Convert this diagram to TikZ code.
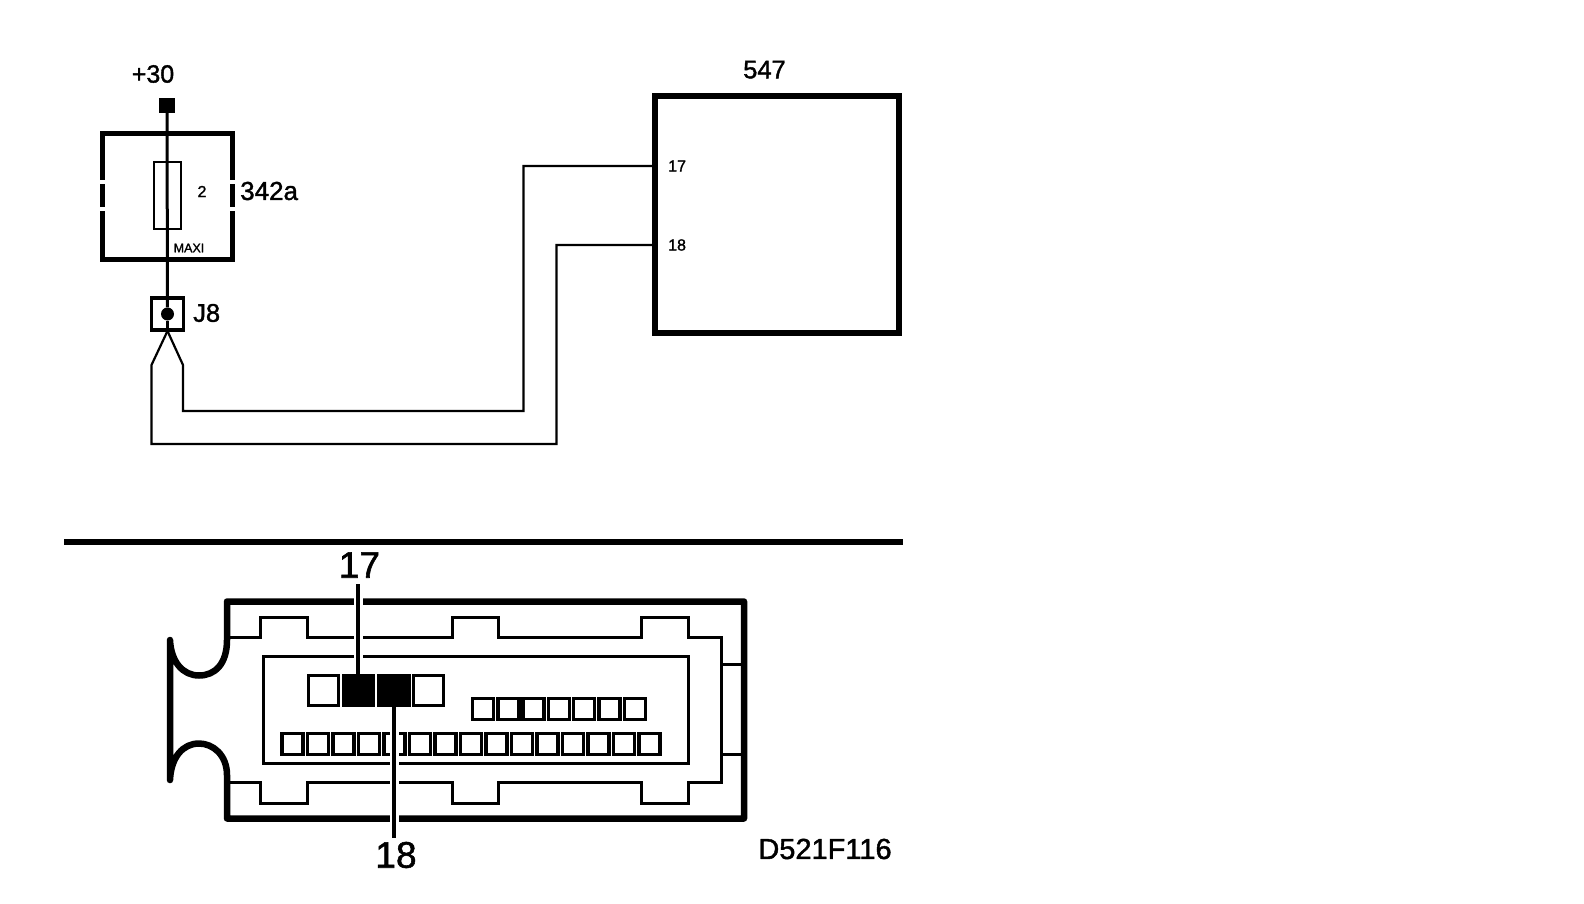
\documentclass[tikz,border=0pt]{standalone}
\usepackage{fontspec}
\setmainfont{Liberation Sans}[FakeBold=1.5]
\usetikzlibrary{arrows.meta}
\tikzset{
  heavybox/.style={draw,line width=6pt,inner sep=0pt,outer sep=0pt},
  lightbox/.style={draw,line width=2pt,inner sep=0pt,outer sep=0pt},
  pinbox/.style={draw,line width=3.5pt,inner sep=0pt,outer sep=0pt,minimum width=#1,minimum height=#1},
  pinfull/.style={pinbox=#1,fill=black},
  wire/.style={line width=2.2pt},
  feed/.style={line width=3pt},
  shell/.style={line width=6.5pt,line join=round,line cap=round},
  inner/.style={line width=3pt,line join=miter},
  leader/.style={line width=4pt},
  halo/.style={white,line width=9pt}
}
\begin{document}
\begin{tikzpicture}[x=1pt,y=-1pt]
  \useasboundingbox (0,0) rectangle (1584,904);
  % upper part
  \node[fill,inner sep=0pt,minimum width=16pt,minimum height=15pt] (term) at (167,105.5) {};
  \node[font=\fontsize{25}{25}\selectfont] (lbl30) at (153,74) {+30};
  \node[heavybox,line width=5pt,minimum width=129.5pt,minimum height=126.5pt] (box342) at (167.5,196.5) {};
  \node[lightbox,minimum width=27pt,minimum height=66pt] (fuse) at (167,195.5) {};
  \node[font=\fontsize{16}{16}\selectfont] (lbl2) at (202,191.5) {2};
  \node[font=\fontsize{12.5}{13}\selectfont] (lblmaxi) at (189,248) {MAXI};
  \node[font=\fontsize{26}{26}\selectfont,anchor=west,inner sep=0pt] (lbl342) at (240,191) {342a};
  % breaks in the sides of 342a
  \foreach \x in {102.75,232.25}
    \foreach \y in {182.5,209}
      \fill[white] (\x-4,\y-2) rectangle (\x+4,\y+2);
  \node[lightbox,line width=3.5pt,minimum width=32pt,minimum height=32pt] (j8) at (167.5,314) {};
  \node[circle,fill,inner sep=0pt,minimum size=13pt] (jdot) at (167.5,314) {};
  \node[font=\fontsize{25.5}{26}\selectfont,anchor=west,inner sep=0pt] (lblj8) at (193,313) {J8};
  \node[heavybox,minimum width=243.5pt,minimum height=236.5pt] (box547) at (776.75,214.75) {};
  \node[font=\fontsize{25.5}{25}\selectfont] (lbl547) at (764.5,69.7) {547};
  \node[font=\fontsize{16}{16}\selectfont,anchor=west,inner sep=0pt] (p17) at (668,166) {17};
  \node[font=\fontsize{16}{16}\selectfont,anchor=west,inner sep=0pt] (p18) at (668,245) {18};
  \draw[feed] (term) -- (jdot);
  \coordinate (fork) at (167.5,331);
  \draw[feed] (jdot) -- (fork);
  \draw[wire] (fork) -- (183,365) -- (183,411) -- (523.5,411) -- (523.5,166) -- (box547.west |- p17);
  \draw[wire] (fork) -- (151.5,365) -- (151.5,444) -- (556.5,444) -- (556.5,245) -- (box547.west |- p18);
  % divider
  \coordinate (divl) at (64,542);
  \coordinate (divr) at (903,542);
  \draw[line width=5.5pt] (divl) -- (divr);
  % connector shell
  \draw[shell] (170,780) -- (170,640)
    .. controls (171,662) and (183,675.5) .. (199,675.5)
    .. controls (215,675.5) and (227,664) .. (227,640)
    -- (227,601.5) -- (744,601.5) -- (744,818.5) -- (227,818.5) -- (227,775)
    .. controls (227,755) and (213,743.5) .. (199,743.5)
    .. controls (183,743.5) and (171,757) .. (170,780);
  \draw[inner] (229,637) -- (260,637) -- (260,617) -- (307,617) -- (307,637) -- (452,637) -- (452,617)
    -- (498,617) -- (498,637) -- (641,637) -- (641,617) -- (688,617) -- (688,637) -- (721,637)
    -- (721,782) -- (688,782) -- (688,803) -- (641,803) -- (641,782) -- (498,782) -- (498,803)
    -- (452,803) -- (452,782) -- (307,782) -- (307,803) -- (260,803) -- (260,782) -- (229,782);
  \draw[inner] (721,664) -- (741,664);
  \draw[inner] (721,754) -- (741,754);
  \node[inner sep=0pt,outer sep=0pt,draw,line width=3pt,minimum width=425pt,minimum height=107pt] (shroud) at (475.5,709.5) {};
  % pins
  \node[pinbox=30pt] (big1) at (323.5,690.5) {};
  \node[pinfull=30pt] (big2) at (358.5,690.5) {};
  \node[pinfull=30pt] (big3) at (394,690.5) {};
  \node[pinbox=30pt] (big4) at (428.5,690.5) {};
  \foreach \i in {0,...,6}
    \node[pinbox=21pt] (mid\i) at ({483+25.3*\i},709) {};
  \foreach \i in {0,...,14}
    \node[pinbox=21pt] (low\i) at ({292.5+25.5*\i},744) {};
  % leaders
  \node[font=\fontsize{37}{37}\selectfont] (lbl17) at (359.5,565) {17};
  \node[font=\fontsize{37}{37}\selectfont] (lbl18) at (396,855) {18};
  \node[font=\fontsize{29}{29}\selectfont] (lblcode) at (825,849) {D521F116};
  \coordinate (top17) at (358,584);
  \coordinate (top18) at (394,708);
  \coordinate (end18) at (394,838);
  \draw[halo] (358,596) -- (358,660);
  \draw[halo] (394,712) -- (394,830);
  \draw[leader] (top17) -- (big2.north -| top17);
  \draw[leader] (big3.south -| top18) -- (end18);
\end{tikzpicture}
\end{document}
